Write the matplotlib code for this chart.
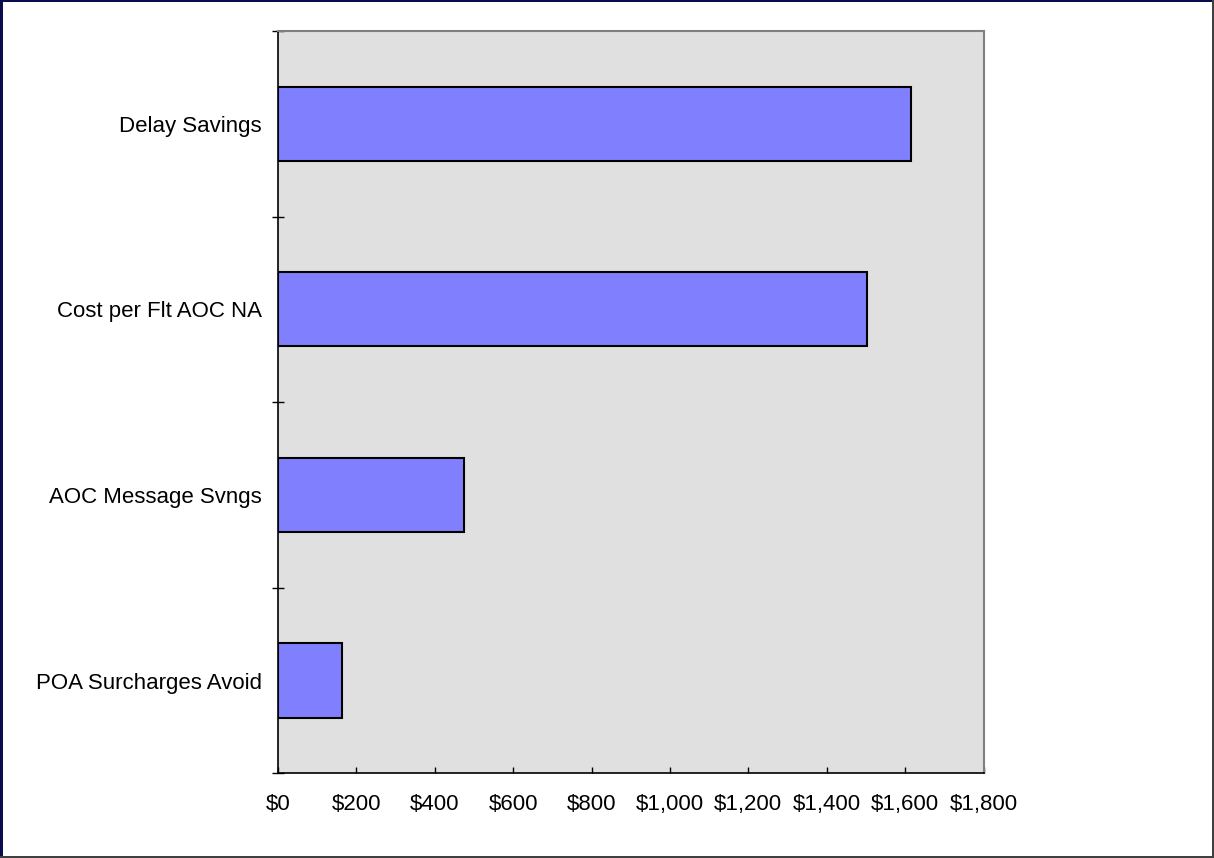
import matplotlib
matplotlib.use("Agg")
import matplotlib.pyplot as plt
from matplotlib.patches import Rectangle
from matplotlib.ticker import FuncFormatter, FixedLocator

categories = ["Delay Savings", "Cost per Flt AOC NA", "AOC Message Svngs", "POA Surcharges Avoid"]
values = [1616, 1503, 475, 164]
x_ticks = [0, 200, 400, 600, 800, 1000, 1200, 1400, 1600, 1800]

plt.rcParams["font.family"] = ["Liberation Sans", "DejaVu Sans"]

fig = plt.figure(figsize=(12.14, 8.58), dpi=100)
fig.patch.set_facecolor("white")

# frame around the slide
fig.add_artist(Rectangle((0, 0), 3 / 1214, 1, transform=fig.transFigure,
                         facecolor="#0b0b4f", edgecolor="none"))
fig.add_artist(Rectangle((0, 1 - 2 / 858), 1, 2 / 858, transform=fig.transFigure,
                         facecolor="#0b0b4f", edgecolor="none"))
fig.add_artist(Rectangle((1 - 2 / 1214, 0), 2 / 1214, 1, transform=fig.transFigure,
                         facecolor="#404040", edgecolor="none"))
fig.add_artist(Rectangle((0, 0), 1, 2 / 858, transform=fig.transFigure,
                         facecolor="#404040", edgecolor="none"))

ax = fig.add_axes([278 / 1214, 1 - 773.3 / 858, (983.5 - 278) / 1214, (773.3 - 31) / 858])
ax.set_facecolor("#e0e0e0")

pos = list(range(len(categories)))
ax.barh(pos, values, height=0.4, color="#8080ff", edgecolor="black", linewidth=1.5, zorder=3)

ax.set_xlim(0, 1800)
ax.set_ylim(3.5, -0.5)

ax.set_xticks(x_ticks)
ax.xaxis.set_major_formatter(FuncFormatter(lambda v, p: "${:,.0f}".format(v)))
ax.tick_params(axis="x", direction="in", length=4.5, width=1, labelsize=16, pad=15, colors="black")

ax.set_yticks(pos)
ax.set_yticklabels(categories)
ax.tick_params(axis="y", which="major", length=0, labelsize=16, pad=11.5)
ax.yaxis.set_minor_locator(FixedLocator([-0.5, 0.5, 1.5, 2.5, 3.5]))
ax.tick_params(axis="y", which="minor", direction="inout", length=9, width=1)

for side in ("left", "bottom"):
    ax.spines[side].set_color("black")
    ax.spines[side].set_linewidth(1.2)
for side in ("top", "right"):
    ax.spines[side].set_color("#808080")
    ax.spines[side].set_linewidth(1.5)

fig.savefig("out.png", dpi=100)
